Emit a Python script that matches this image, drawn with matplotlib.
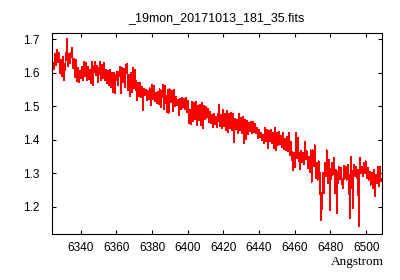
import numpy as np
import matplotlib
matplotlib.use("Agg")
import matplotlib.pyplot as plt

title = "_19mon_20171013_181_35.fits"
xlabel = "Angstrom"
wave_start = 6323.9
wave_step = 0.5603
xticks = [6340, 6360, 6380, 6400, 6420, 6440, 6460, 6480, 6500]
yticks = [1.2, 1.3, 1.4, 1.5, 1.6, 1.7]

flux = [
    1.620, 1.628, 1.611, 1.655, 1.622, 1.667, 1.630, 1.660, 1.598, 1.637,
    1.590, 1.646, 1.578, 1.620, 1.641, 1.700, 1.618, 1.655, 1.627, 1.652,
    1.673, 1.612, 1.642, 1.587, 1.637, 1.575, 1.615, 1.572, 1.605, 1.583,
    1.617, 1.578, 1.631, 1.590, 1.628, 1.578, 1.616, 1.580, 1.607, 1.569,
    1.631, 1.563, 1.616, 1.632, 1.593, 1.620, 1.572, 1.605, 1.631, 1.578,
    1.622, 1.584, 1.628, 1.578, 1.607, 1.569, 1.604, 1.563, 1.607, 1.557,
    1.598, 1.542, 1.600, 1.539, 1.592, 1.601, 1.563, 1.598, 1.616, 1.539,
    1.613, 1.571, 1.610, 1.557, 1.622, 1.625, 1.548, 1.593, 1.530, 1.600,
    1.540, 1.613, 1.553, 1.608, 1.563, 1.518, 1.568, 1.530, 1.569, 1.527,
    1.558, 1.488, 1.552, 1.533, 1.548, 1.518, 1.545, 1.520, 1.553, 1.503,
    1.563, 1.520, 1.560, 1.515, 1.540, 1.509, 1.542, 1.505, 1.550, 1.497,
    1.535, 1.563, 1.490, 1.560, 1.521, 1.482, 1.548, 1.480, 1.550, 1.512,
    1.545, 1.484, 1.548, 1.500, 1.527, 1.503, 1.520, 1.473, 1.522, 1.490,
    1.525, 1.495, 1.523, 1.490, 1.524, 1.482, 1.515, 1.450, 1.488, 1.445,
    1.512, 1.455, 1.509, 1.460, 1.512, 1.443, 1.500, 1.458, 1.503, 1.443,
    1.509, 1.434, 1.500, 1.462, 1.497, 1.465, 1.492, 1.452, 1.482, 1.450,
    1.474, 1.437, 1.478, 1.445, 1.467, 1.437, 1.460, 1.503, 1.440, 1.475,
    1.434, 1.490, 1.440, 1.478, 1.427, 1.487, 1.422, 1.477, 1.435, 1.480,
    1.428, 1.478, 1.392, 1.463, 1.430, 1.460, 1.420, 1.477, 1.428, 1.465,
    1.418, 1.468, 1.390, 1.458, 1.400, 1.455, 1.415, 1.450, 1.425, 1.452,
    1.418, 1.452, 1.422, 1.446, 1.420, 1.435, 1.405, 1.430, 1.408, 1.419,
    1.399, 1.413, 1.390, 1.434, 1.395, 1.428, 1.375, 1.425, 1.395, 1.428,
    1.388, 1.420, 1.374, 1.434, 1.369, 1.420, 1.382, 1.424, 1.385, 1.410,
    1.378, 1.420, 1.372, 1.403, 1.367, 1.408, 1.364, 1.420, 1.354, 1.393,
    1.358, 1.309, 1.360, 1.318, 1.420, 1.345, 1.405, 1.350, 1.310, 1.367,
    1.333, 1.360, 1.327, 1.393, 1.340, 1.365, 1.315, 1.349, 1.303, 1.368,
    1.274, 1.368, 1.320, 1.383, 1.285, 1.330, 1.280, 1.335, 1.292, 1.160,
    1.200, 1.300, 1.240, 1.330, 1.290, 1.368, 1.270, 1.340, 1.190, 1.300,
    1.330, 1.295, 1.345, 1.240, 1.310, 1.180, 1.290, 1.320, 1.282, 1.315,
    1.275, 1.255, 1.322, 1.283, 1.318, 1.280, 1.325, 1.290, 1.165, 1.348,
    1.300, 1.195, 1.325, 1.290, 1.320, 1.285, 1.310, 1.140, 1.345, 1.300,
    1.320, 1.290, 1.330, 1.300, 1.335, 1.285, 1.315, 1.280, 1.305, 1.265,
    1.300, 1.255, 1.310, 1.230, 1.295, 1.270, 1.318, 1.260, 1.320, 1.275,
]

wave = wave_start + wave_step * np.arange(len(flux))

plt.rcParams['font.family'] = ['Liberation Sans', 'DejaVu Sans']

fig = plt.figure(figsize=(4.0, 2.8), dpi=100)
ax = fig.add_axes([52 / 400, 46 / 280, 329.5 / 400, 201 / 280])
ax.plot(wave, flux, color='#ff0000', lw=0.45, antialiased=False)

ax.set_xlim(6323.9, 6508.6)
ax.set_ylim(1.118, 1.718)
ax.set_xticks(xticks)
ax.set_yticks(yticks)
ax.set_xticklabels([str(v) for v in xticks])
ax.set_yticklabels([f"{v:.1f}" for v in yticks])
ax.tick_params(direction='in', length=3, width=0.8, top=True, right=True,
               labelsize=8.5, colors='black')
ax.tick_params(axis='y', pad=9)
ax.tick_params(axis='x', pad=6)
for s in ax.spines.values():
    s.set_linewidth(0.8)
    s.set_color('black')

fig.text(216.7 / 400, 1 - 18.3 / 280, title, ha='center', va='center', fontsize=9)
fig.text(384 / 400, 1 - 261.7 / 280, xlabel, ha='right', va='center',
         fontsize=9.5, family=['Liberation Serif'])

fig.savefig('out.png', dpi=100)
